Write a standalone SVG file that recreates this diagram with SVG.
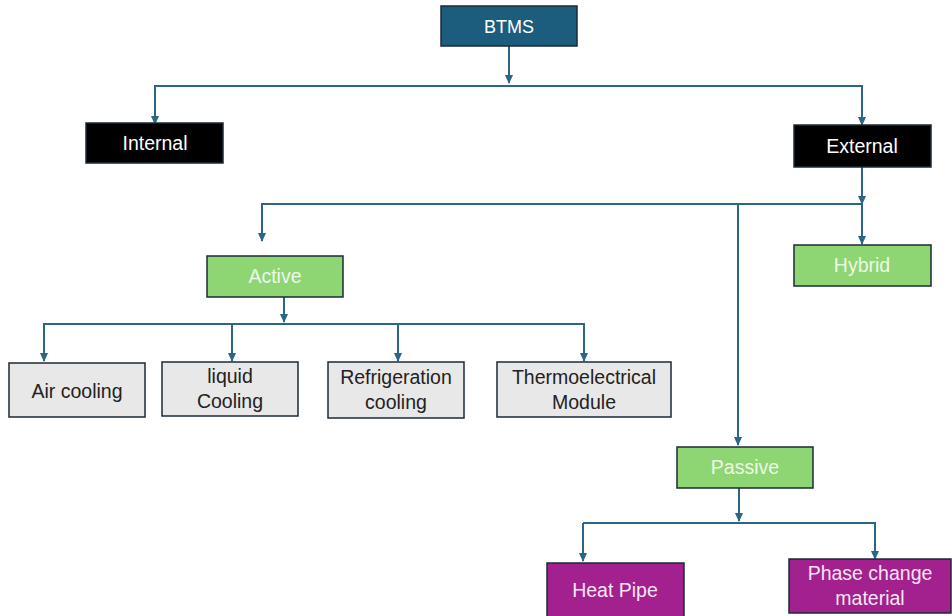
<svg xmlns="http://www.w3.org/2000/svg" width="952" height="616" viewBox="0 0 952 616">
<style>
.box{stroke:#1b2a36;stroke-width:1.5}
.blue{fill:#1c5d7e}
.black{fill:#000000}
.green{fill:#8dd673}
.grey{fill:#e8e8e8}
.purple{fill:#a3208f}
text{font-family:"Liberation Sans",Arial,sans-serif;font-size:19.5px;text-anchor:middle}
.w{fill:#ffffff}
.g{fill:#eef8e9}
.d{fill:#222222}
.p{fill:#f6e6f2}
.ln{fill:none;stroke:#2b6686;stroke-width:2}
</style>
<defs>
<marker id="ah" markerWidth="9" markerHeight="8" refX="8" refY="4" orient="auto" markerUnits="userSpaceOnUse">
<path d="M0,0 L9,4 L0,8 Z" fill="#2b6686"/>
</marker>
</defs>
<g id="connectors">
<path class="ln" d="M509,46 V83" marker-end="url(#ah)"/>
<path class="ln" d="M155,124 V86 H862 V125" marker-end="url(#ah)"/>
<path class="ln" d="M155,86 V124" marker-end="url(#ah)"/>
<path class="ln" d="M862,167 V204" marker-end="url(#ah)"/>
<path class="ln" d="M862,204 H262 V241" marker-end="url(#ah)"/>
<path class="ln" d="M738,204 V445" marker-end="url(#ah)"/>
<path class="ln" d="M862,204 V244" marker-end="url(#ah)"/>
<path class="ln" d="M284,297 V322" marker-end="url(#ah)"/>
<path class="ln" d="M44,361 V324 H584 V361" marker-end="url(#ah)"/>
<path class="ln" d="M44,324 V361" marker-end="url(#ah)"/>
<path class="ln" d="M232,324 V361" marker-end="url(#ah)"/>
<path class="ln" d="M398,324 V361" marker-end="url(#ah)"/>
<path class="ln" d="M739,488 V521" marker-end="url(#ah)"/>
<path class="ln" d="M583,523 H875 V559" marker-end="url(#ah)"/>
<path class="ln" d="M583,523 V561" marker-end="url(#ah)"/>
</g>
<g id="btms"><rect class="box blue" x="441" y="6" width="136" height="40"/><text class="w" x="509" y="33" style="font-size:18px">BTMS</text></g>
<g id="internal"><rect class="box black" x="86" y="123" width="137" height="40"/><text class="w" x="155" y="150">Internal</text></g>
<g id="external"><rect class="box black" x="794" y="125" width="137" height="42"/><text class="w" x="862" y="153">External</text></g>
<g id="active"><rect class="box green" x="207" y="256" width="136" height="41"/><text class="g" x="275" y="283">Active</text></g>
<g id="hybrid"><rect class="box green" x="794" y="245" width="137" height="41"/><text class="g" x="862" y="272">Hybrid</text></g>
<g id="passive"><rect class="box green" x="677" y="447" width="136" height="41"/><text class="g" x="745" y="474">Passive</text></g>
<g id="air-cooling"><rect class="box grey" x="9" y="363" width="136" height="54"/><text class="d" x="77" y="398">Air cooling</text></g>
<g id="liquid-cooling"><rect class="box grey" x="162" y="362" width="136" height="54"/><text class="d" x="230" y="383">liquid</text><text class="d" x="230" y="408">Cooling</text></g>
<g id="refrigeration-cooling"><rect class="box grey" x="328" y="362" width="136" height="56"/><text class="d" x="396" y="384">Refrigeration</text><text class="d" x="396" y="409">cooling</text></g>
<g id="thermoelectrical-module"><rect class="box grey" x="497" y="362" width="174" height="55"/><text class="d" x="584" y="384">Thermoelectrical</text><text class="d" x="584" y="409">Module</text></g>
<g id="heat-pipe"><rect class="box purple" x="547" y="563" width="137" height="60"/><text class="p" x="615" y="597">Heat Pipe</text></g>
<g id="phase-change-material"><rect class="box purple" x="789" y="559" width="162" height="54"/><text class="p" x="870" y="580">Phase change</text><text class="p" x="870" y="605">material</text></g>
</svg>
